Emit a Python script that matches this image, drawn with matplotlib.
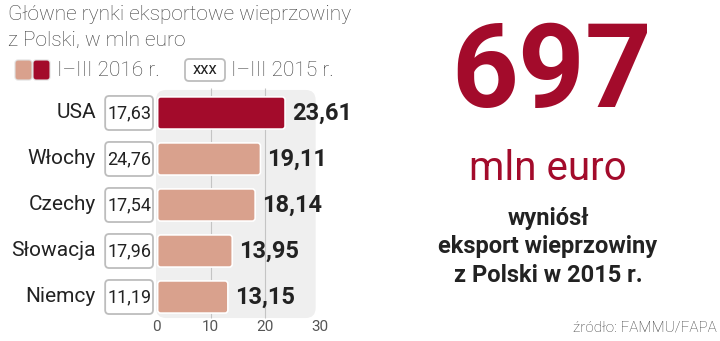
from matplotlib import pyplot as plt
from matplotlib.patches import FancyBboxPatch

plt.rcParams['font.family'] = ['Roboto', 'DejaVu Sans']

countries = ['USA', 'Włochy', 'Czechy', 'Słowacja', 'Niemcy']
val_2016 = [23.61, 19.11, 18.14, 13.95, 13.15]
val_2015 = [17.63, 24.76, 17.54, 17.96, 11.19]
ticks = [0, 10, 20, 30]

RED = '#a30b2b'
SALMON = '#d9a18d'
GRAY_TXT = '#3c3c3c'
DARK = '#222222'


def fmt(v):
    return f'{v:.2f}'.replace('.', ',')


fig = plt.figure(figsize=(7.2, 3.41), dpi=100)

# scale factors (pixels per data unit) for rounded corners
px_x = 164 / 30
px_y = 46
asp = px_x / px_y

ax = fig.add_axes([156 / 720, 21 / 341, 164 / 720, 232 / 341])
ax.set_xlim(0, 30)
ax.set_ylim(4.5, -0.543)
ax.axis('off')

# light background panel
panel = FancyBboxPatch((0, -0.5), 29.2, 4.957,
                       boxstyle=f'round,pad=0,rounding_size={10 / px_x}',
                       mutation_aspect=asp, fc='#efefef', ec='none', zorder=0)
ax.add_patch(panel)
ax.vlines([10, 20], -0.543, 4.457, color='#c4c4c4', lw=0.8, zorder=1)

for i, (name, v16, v15) in enumerate(zip(countries, val_2016, val_2015)):
    color = RED if i == 0 else SALMON
    bar = FancyBboxPatch((0.3, i - 0.35), v16 - 0.3, 0.7,
                         boxstyle=f'round,pad=0,rounding_size={3 / px_x}',
                         mutation_aspect=asp, fc=color, ec='white', lw=1.2, zorder=2)
    ax.add_patch(bar)
    ax.annotate(fmt(v16), (v16, i), xytext=(5, 0), textcoords='offset points',
                ha='left', va='center', fontsize=17, fontweight='bold', color=DARK)

    box = FancyBboxPatch((-9.3, i - 0.37), 8.75, 0.74,
                         boxstyle=f'round,pad=0,rounding_size={4 / px_x}',
                         mutation_aspect=asp, fc='white', ec='#bdbdbd', lw=1.3,
                         zorder=2, clip_on=False)
    ax.add_patch(box)
    ax.text(-4.92, i, fmt(v15), ha='center', va='center', fontsize=13,
            color=DARK, clip_on=False)
    ax.text(-11.0, i, name, ha='right', va='center', fontsize=15,
            color=DARK, clip_on=False)

for t in ticks:
    ax.text(t, 4.66, str(t), ha='center', va='center', fontsize=11, color='#555555')

# overlay in pixel coordinates for title, legend and right-hand text
ov = fig.add_axes([0, 0, 1, 1], zorder=-1)
ov.set_xlim(0, 720)
ov.set_ylim(341, 0)
ov.axis('off')

ov.text(8, 14, 'Główne rynki eksportowe wieprzowiny', ha='left', va='center',
        fontsize=15, fontweight='light', color=GRAY_TXT)
ov.text(8, 40, 'z Polski, w mln euro', ha='left', va='center',
        fontsize=15, fontweight='light', color=GRAY_TXT)

ov.add_patch(FancyBboxPatch((15, 60), 17, 20, boxstyle='round,pad=0,rounding_size=3',
                            fc=SALMON, ec='#e0e0e0', lw=0.8))
ov.add_patch(FancyBboxPatch((33, 60), 17, 20, boxstyle='round,pad=0,rounding_size=3',
                            fc=RED, ec='#e0e0e0', lw=0.8))
ov.text(57, 70, 'I–III 2016 r.', ha='left', va='center', fontsize=15,
        fontweight='light', color=GRAY_TXT)
ov.add_patch(FancyBboxPatch((185, 59), 40, 22, boxstyle='round,pad=0,rounding_size=4',
                            fc='white', ec='#bdbdbd', lw=1.3))
ov.text(205, 70, 'xxx', ha='center', va='center', fontsize=12, color=DARK)
ov.text(231, 70, 'I–III 2015 r.', ha='left', va='center', fontsize=15,
        fontweight='light', color=GRAY_TXT)

ov.text(552, 107, '697', ha='center', va='baseline', fontsize=84,
        fontweight='bold', color=RED)
ov.text(548, 180, 'mln euro', ha='center', va='baseline', fontsize=29, color=RED)
ov.text(548, 218, 'wyniósł', ha='center', va='center', fontsize=17,
        fontweight='bold', color=DARK)
ov.text(548, 246, 'eksport wieprzowiny', ha='center', va='center', fontsize=17,
        fontweight='bold', color=DARK)
ov.text(548, 276, 'z Polski w 2015 r.', ha='center', va='center', fontsize=17,
        fontweight='bold', color=DARK)
ov.text(717, 328, 'źródło: FAMMU/FAPA', ha='right', va='center', fontsize=11,
        fontweight='light', color=GRAY_TXT)

fig.savefig('out.png', dpi=100)
